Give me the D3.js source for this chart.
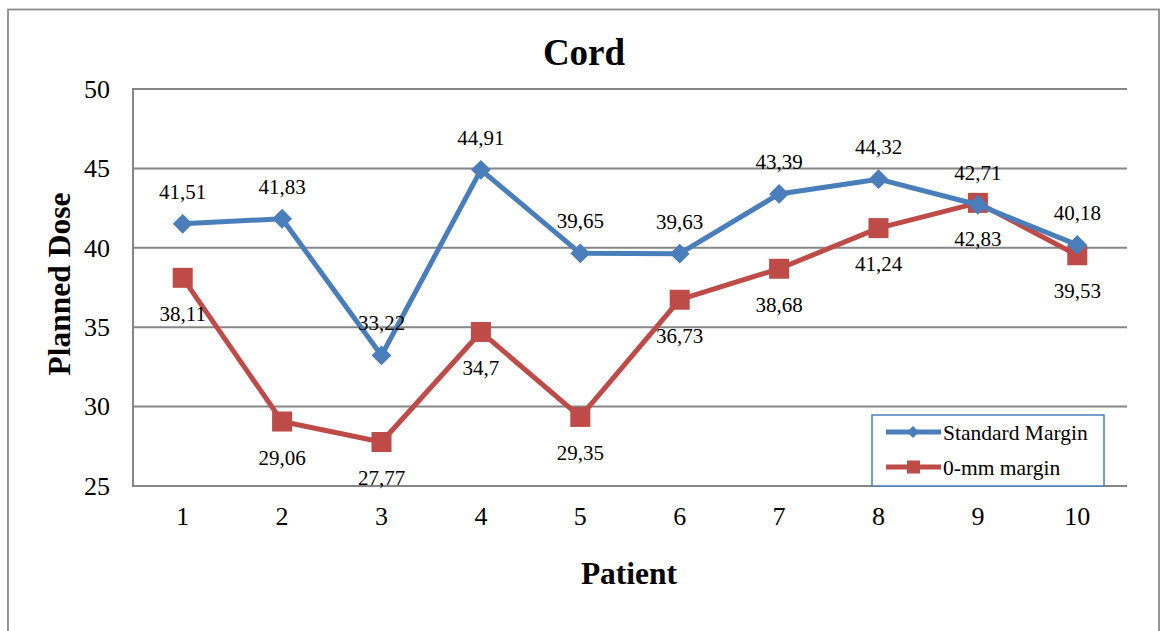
<!DOCTYPE html>
<html><head><meta charset="utf-8">
<script src="https://cdn.jsdelivr.net/npm/d3@7"></script>
<style>body{margin:0;background:#fff}svg{display:block}text{font-family:"Liberation Serif","Times New Roman",serif}</style>
</head><body>
<svg id="c" width="1161" height="631"></svg>
<script>
const categories = ["1","2","3","4","5","6","7","8","9","10"];
const standardMargin = [41.51, 41.83, 33.22, 44.91, 39.65, 39.63, 43.39, 44.32, 42.71, 40.18];
const zeroMargin = [38.11, 29.06, 27.77, 34.7, 29.35, 36.73, 38.68, 41.24, 42.83, 39.53];
const yTicks = [25, 30, 35, 40, 45, 50];
const seriesNames = ["Standard Margin", "0-mm margin"];

const svg = d3.select("#c");
const m = {l:133, r:1127, t:89, b:486};
const x = d3.scaleBand().domain(categories).range([m.l, m.r]);
const y = d3.scaleLinear().domain([25, 50]).range([m.b, m.t]);
const fmt = v => String(v).replace(".", ",");

// outer border
svg.append("rect").attr("x",8).attr("y",9.5).attr("width",1151).attr("height",640)
  .attr("fill","none").attr("stroke","#8c8c8c").attr("stroke-width",1.8);

// gridlines
svg.append("g").selectAll("line").data(yTicks).join("line")
  .attr("x1",m.l).attr("x2",m.r).attr("y1",d=>y(d)).attr("y2",d=>y(d))
  .attr("stroke","#868686").attr("stroke-width",2);
// left axis line
svg.append("line").attr("x1",m.l).attr("x2",m.l).attr("y1",m.t-1).attr("y2",m.b+1)
  .attr("stroke","#868686").attr("stroke-width",2);

// y tick labels
const yAxis = d3.axisLeft(y).tickValues(yTicks).tickSize(0).tickPadding(23);
const ga = svg.append("g").attr("transform",`translate(${m.l},0)`).call(yAxis);
ga.select(".domain").remove();
ga.selectAll("text").attr("font-size",26).attr("font-family","Liberation Serif").attr("fill","#000");

// x tick labels
const xAxis = d3.axisBottom(x).tickSize(0).tickPadding(21);
const gx = svg.append("g").attr("transform",`translate(0,${m.b})`).call(xAxis);
gx.select(".domain").remove();
gx.selectAll("text").attr("font-size",26).attr("font-family","Liberation Serif").attr("fill","#000");

// titles
svg.append("text").attr("x",584).attr("y",65).attr("text-anchor","middle")
  .attr("font-size",37).attr("font-weight","bold").text("Cord");
svg.append("text").attr("x",629).attr("y",584).attr("text-anchor","middle")
  .attr("font-size",31.5).attr("font-weight","bold").text("Patient");
svg.append("text").attr("transform","translate(70,284) rotate(-90)").attr("text-anchor","middle")
  .attr("font-size",31.5).attr("font-weight","bold").text("Planned Dose");

const cx = i => x(categories[i]) + x.bandwidth()/2;
const line = d3.line().x((d,i)=>cx(i)).y(d=>y(d));
const blue = "#4a7ebb", red = "#be4b48";

// red series
svg.append("path").datum(zeroMargin).attr("d",line).attr("fill","none")
  .attr("stroke",red).attr("stroke-width",5).attr("stroke-linejoin","round");
svg.append("g").selectAll("rect").data(zeroMargin).join("rect")
  .attr("x",(d,i)=>cx(i)-10).attr("y",d=>y(d)-10).attr("width",20).attr("height",20)
  .attr("fill",red);

// blue series
svg.append("path").datum(standardMargin).attr("d",line).attr("fill","none")
  .attr("stroke",blue).attr("stroke-width",5).attr("stroke-linejoin","round");
const dia = d3.symbol().type(d3.symbolDiamond2).size(250);
svg.append("g").selectAll("path").data(standardMargin).join("path")
  .attr("d",dia).attr("transform",(d,i)=>`translate(${cx(i)},${y(d)})`).attr("fill",blue);

// labels
svg.append("g").selectAll("text").data(standardMargin).join("text")
  .attr("x",(d,i)=>cx(i)).attr("y",d=>y(d)-25).attr("text-anchor","middle")
  .attr("font-size",21).text(d=>fmt(d));
svg.append("g").selectAll("text").data(zeroMargin).join("text")
  .attr("x",(d,i)=>cx(i)).attr("y",d=>y(d)+43).attr("text-anchor","middle")
  .attr("font-size",21).text(d=>fmt(d));

// legend
const lg = svg.append("g");
lg.append("rect").attr("x",872).attr("y",415).attr("width",232).attr("height",71)
  .attr("fill","#fff").attr("stroke",blue).attr("stroke-width",1.5);
const items = [{n:seriesNames[0],c:blue,t:"d",yy:432},{n:seriesNames[1],c:red,t:"s",yy:467}];
items.forEach(it=>{
  lg.append("line").attr("x1",886).attr("x2",941).attr("y1",it.yy).attr("y2",it.yy)
    .attr("stroke",it.c).attr("stroke-width",5);
  if(it.t==="d") lg.append("path").attr("d",d3.symbol().type(d3.symbolDiamond2).size(90)).attr("transform",`translate(913,${it.yy})`).attr("fill",it.c);
  else lg.append("rect").attr("x",907).attr("y",it.yy-6.5).attr("width",13).attr("height",13).attr("fill",it.c);
  lg.append("text").attr("x",943).attr("y",it.yy+8).attr("font-size",21.5).text(it.n);
});
</script>
</body></html>
